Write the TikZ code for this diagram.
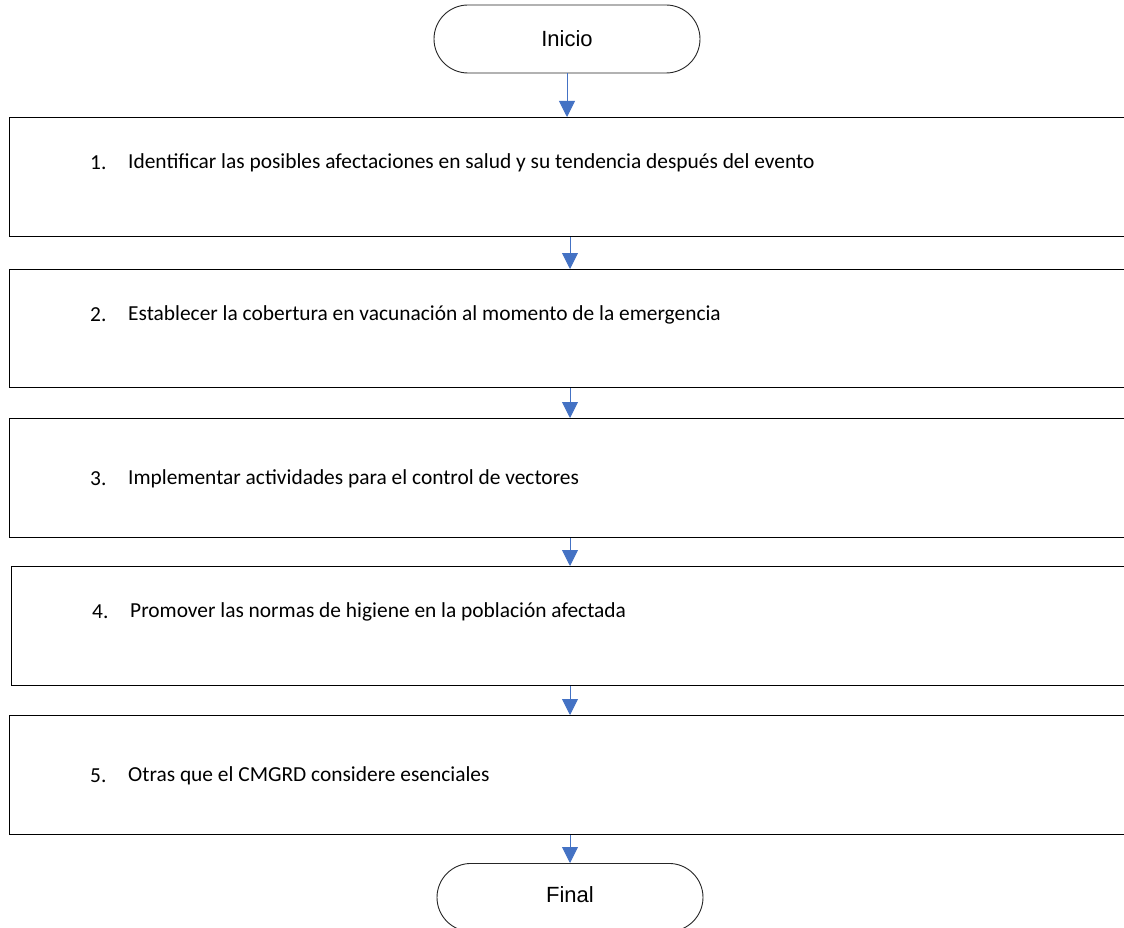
\documentclass[tikz,border=0pt]{standalone}
\usepackage{fontspec}
\setmainfont{Carlito}
\newfontfamily\arialf{Liberation Sans}
\usetikzlibrary{arrows.meta,shapes.misc}
\definecolor{arrowblue}{RGB}{68,114,196}
\tikzset{
  stepbox/.style={draw=black, line width=1.3pt, rectangle, inner sep=0pt, anchor=north west},
  term/.style={draw=black!85, line width=0.9pt, rounded rectangle, inner sep=0pt},
  steptext/.style={anchor=west, inner sep=0pt, font=\fontsize{21.4}{24}\selectfont},
  numtext/.style={anchor=west, inner sep=0pt, font=\fontsize{21.4}{24}\selectfont},
  conn/.style={draw=arrowblue, line width=0.9pt, -{Triangle[length=16pt,width=16pt]}},
}
\begin{document}
\begin{tikzpicture}[x=1pt,y=-1pt]
\useasboundingbox (0,0) rectangle (1124,928);
\clip (0,0) rectangle (1124,928);
\fill[white] (0,0) rectangle (1124,928);
% terminals
\node[term, minimum width=266pt, minimum height=68pt, font=\arialf\fontsize{22}{26}\selectfont] (ini) at (567,39) {Inicio};
\node[term, minimum width=266pt, minimum height=68pt, anchor=north] (fin) at (570,863) {};
\node[font=\arialf\fontsize{22}{26}\selectfont] (fint) at (570,895) {Final};
% boxes
\node[stepbox, minimum width=1130pt, minimum height=119pt] (b1) at (9,117) {};
\node[stepbox, minimum width=1130pt, minimum height=118pt] (b2) at (9,269) {};
\node[stepbox, minimum width=1130pt, minimum height=119pt] (b3) at (9,418) {};
\node[stepbox, minimum width=1130pt, minimum height=119pt] (b4) at (11,566) {};
\node[stepbox, minimum width=1130pt, minimum height=119pt] (b5) at (9,715) {};
% texts
\node[numtext] (n1) at (90,163) {1.};
\node[steptext] (t1) at (128,163) {Identificar las posibles afectaciones en salud y su tendencia después del evento};
\node[numtext] (n2) at (90,315) {2.};
\node[steptext] (t2) at (128,315) {Establecer la cobertura en vacunación al momento de la emergencia};
\node[numtext] (n3) at (90,479) {3.};
\node[steptext] (t3) at (128,479) {Implementar actividades para el control de vectores};
\node[numtext] (n4) at (92,612) {4.};
\node[steptext] (t4) at (130,612) {Promover las normas de higiene en la población afectada};
\node[numtext] (n5) at (90,776) {5.};
\node[steptext] (t5) at (128,776) {Otras que el CMGRD considere esenciales};
% connectors
\coordinate (a0) at (569,117);
\coordinate (a1) at (570,269);
\coordinate (a2) at (570,418);
\coordinate (a3) at (570,566);
\coordinate (a4) at (570,715);
\draw[conn] (ini.south) -- (ini.south |- a0);
\draw[conn] (b1.south -| a1) -- (a1);
\draw[conn] (b2.south -| a2) -- (a2);
\draw[conn] (b3.south -| a3) -- (a3);
\draw[conn] (b4.south -| a4) -- (a4);
\draw[conn] (b5.south -| fin.north) -- (fin.north);
\end{tikzpicture}
\end{document}
